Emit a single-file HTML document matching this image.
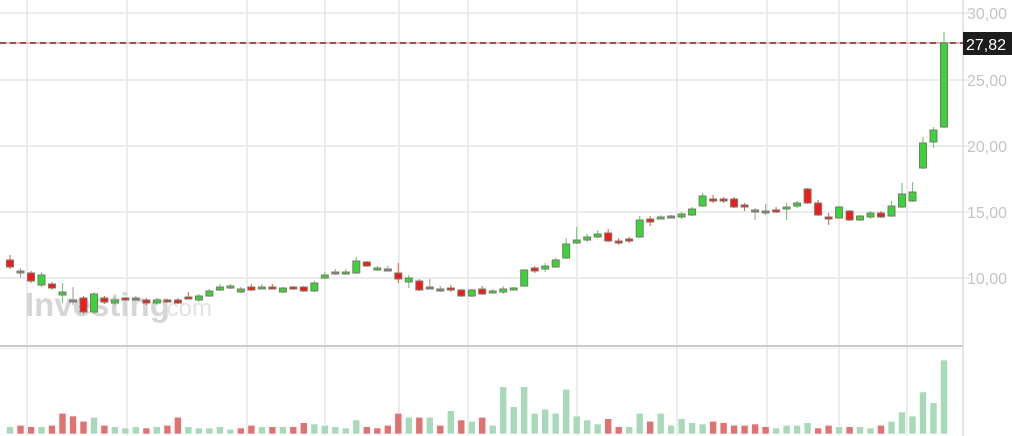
<!DOCTYPE html>
<html><head><meta charset="utf-8"><style>
html,body{margin:0;padding:0;background:#fff;width:1012px;height:436px;overflow:hidden}
svg{display:block;font-family:"Liberation Sans",sans-serif}
</style></head><body>
<svg id="s" width="1012" height="436" viewBox="0 0 1012 436" xmlns="http://www.w3.org/2000/svg">
<g stroke="#e6e6e6" stroke-width="1.5">
<line x1="27" y1="0" x2="27" y2="436"/><line x1="127" y1="0" x2="127" y2="436"/><line x1="247" y1="0" x2="247" y2="436"/><line x1="325" y1="0" x2="325" y2="436"/><line x1="399" y1="0" x2="399" y2="436"/><line x1="468" y1="0" x2="468" y2="436"/><line x1="577" y1="0" x2="577" y2="436"/><line x1="677" y1="0" x2="677" y2="436"/><line x1="767" y1="0" x2="767" y2="436"/><line x1="839" y1="0" x2="839" y2="436"/><line x1="907" y1="0" x2="907" y2="436"/>
<line x1="0" y1="13" x2="970" y2="13"/><line x1="0" y1="80" x2="970" y2="80"/><line x1="0" y1="146" x2="970" y2="146"/><line x1="0" y1="212" x2="970" y2="212"/><line x1="0" y1="278" x2="970" y2="278"/>
</g>
<line x1="963" y1="0" x2="963" y2="436" stroke="#ddd" stroke-width="1.5"/>
<line x1="0" y1="346" x2="963" y2="346" stroke="#ccc" stroke-width="2"/>
<line x1="0" y1="348.5" x2="963" y2="348.5" stroke="#eee" stroke-width="1"/>
<text x="25" y="316" font-size="33" font-weight="bold" fill="#d0d0d0" opacity="0.85">Investing</text>
<text x="160" y="316" font-size="24" fill="#dcdcdc" opacity="0.8">.com</text>
<g font-size="16" fill="#c4c4c4">
<text x="967" y="19">30,00</text><text x="967" y="86">25,00</text><text x="967" y="152">20,00</text><text x="967" y="218">15,00</text><text x="967" y="284">10,00</text>
</g>
<line x1="0" y1="43" x2="963" y2="43" stroke="#f3b0b0" stroke-width="2"/>
<line x1="0" y1="43" x2="963" y2="43" stroke="#6a3a3a" stroke-width="1.5" stroke-dasharray="6,4"/>
<rect x="963" y="32" width="49" height="23" fill="#1d1d1d"/>
<text x="966" y="50" font-size="16" fill="#fff">27,82</text>
<g id="c"></g>
</svg>
<script>
(function(){
var C=[
[260,267,255,269,'r'],[271,273,268,278,'d'],[273,281,271,283,'r'],[275,285,272,287,'g'],[284,288,282,290,'r'],[292,295,283,303,'g'],[300,302,287,305,'d'],[298,312,296,314,'r'],[294,312,292,314,'g'],[298,302,296,304,'r'],
[300,303,297,305,'g'],[298,300,297,300,'r'],[298,300,296,301,'d'],[300,303,298,305,'r'],[300,303,298,305,'g'],[300,302,299,302,'r'],[300,303,298,304,'r'],[297,299,292,299,'r'],[296,300,294,302,'g'],[291,296,289,297,'g'],
[287,290,284,291,'g'],[286,288,284,289,'g'],[289,292,287,293,'g'],[287,290,284,291,'r'],[287,289,284,289,'g'],[287,289,284,289,'r'],[288,292,287,293,'g'],[287,289,286,290,'r'],[287,291,286,292,'r'],[283,291,281,292,'g'],
[275,278,272,279,'g'],[272,274,269,275,'d'],[272,274,269,275,'g'],[261,273,257,274,'g'],[262,266,261,267,'r'],[268,270,266,271,'g'],[269,271,266,271,'d'],[273,279,263,283,'r'],[278,282,275,288,'g'],[281,290,279,291,'r'],
[287,289,279,289,'d'],[289,291,286,292,'d'],[288,290,285,292,'r'],[290,296,289,297,'r'],[290,296,289,297,'g'],[289,294,286,295,'r'],[291,293,289,293,'g'],[289,292,286,294,'g'],[288,290,287,290,'g'],[270,286,269,287,'g'],
[268,271,266,273,'r'],[266,269,263,272,'g'],[260,267,258,268,'g'],[244,258,238,259,'g'],[240,243,227,244,'g'],[237,240,234,242,'g'],[234,237,230,238,'g'],[233,241,229,242,'r'],[241,243,238,245,'r'],[239,241,237,243,'r'],
[220,237,216,238,'g'],[219,222,216,226,'r'],[217,219,215,219,'g'],[216,218,215,218,'d'],[214,217,212,219,'g'],[209,215,207,216,'g'],[196,206,193,207,'g'],[199,201,195,203,'r'],[199,201,197,203,'r'],[199,207,197,208,'r'],
[205,207,203,211,'r'],[210,212,208,220,'d'],[211,213,204,215,'d'],[210,212,207,213,'r'],[207,209,203,220,'g'],[203,206,201,208,'g'],[189,203,188,204,'r'],[203,215,200,216,'r'],[217,219,213,225,'r'],[207,218,206,219,'g'],
[211,220,210,221,'r'],[216,220,215,221,'g'],[213,217,211,219,'g'],[213,217,211,218,'r'],[206,216,201,217,'g'],[194,207,183,208,'g'],[192,201,182,202,'g'],[143,168,137,169,'g'],[130,142,127,148,'g'],[43,127,32,128,'g']
];
var V=[[260,'g'],[256,'r'],[260,'r'],[260,'g'],[256,'r'],[220,'r'],[228,'r'],[244,'r'],[232,'g'],[256,'r'],[260,'g'],[264,'g'],[260,'g'],[264,'r'],[260,'g'],[256,'r'],[232,'r'],[260,'g'],[264,'g'],[264,'g'],[260,'g'],[268,'g'],[264,'r'],[256,'r'],[260,'g'],[260,'r'],[260,'g'],[260,'r'],[248,'r'],[252,'g'],[256,'g'],[260,'g'],[264,'g'],[240,'g'],[260,'r'],[264,'r'],[256,'r'],[220,'r'],[232,'g'],[232,'r'],[232,'g'],[256,'r'],[212,'g'],[240,'r'],[244,'g'],[232,'r'],[256,'g'],[140,'g'],[200,'g'],[140,'g'],[220,'g'],[208,'g'],[220,'g'],[148,'g'],[228,'g'],[240,'g'],[252,'g'],[236,'r'],[260,'r'],[260,'g'],[220,'g'],[244,'r'],[220,'g'],[256,'g'],[236,'g'],[248,'g'],[252,'g'],[244,'r'],[248,'r'],[256,'r'],[256,'r'],[252,'r'],[260,'r'],[264,'g'],[256,'g'],[256,'g'],[248,'g'],[264,'r'],[256,'r'],[260,'g'],[260,'r'],[260,'g'],[264,'g'],[256,'r'],[244,'g'],[216,'g'],[228,'g'],[156,'g'],[188,'g'],[60,'g']];
var NS='http://www.w3.org/2000/svg',g=document.getElementById('c');
function mk(tag,attrs){var e=document.createElementNS(NS,tag);for(var k in attrs)e.setAttribute(k,attrs[k]);g.appendChild(e);}
var step=(944-10)/89;
for(var i=0;i<V.length;i++){var x=10+i*step;var yt=340+V[i][0]/3;
mk('rect',{x:(x-3.5).toFixed(1),y:yt.toFixed(1),width:7,height:(434-yt).toFixed(1),fill:(V[i][1]=='g'?'#a8d9b9':'#e07272'),stroke:'#fff','stroke-width':0.6});}
for(var j=0;j<C.length;j++){var c=C[j],cx=10+j*step;
var col=c[4]=='g'?'#3ad43a':(c[4]=='r'?'#ee1c1c':'#888');
var wc=c[4]=='g'?'#7cc87c':(c[4]=='r'?'#ee6a5a':'#aaa');
mk('line',{x1:cx.toFixed(1),y1:c[2],x2:cx.toFixed(1),y2:c[3],stroke:wc,'stroke-width':1.2});
var bh=Math.max(c[1]-c[0],2);
mk('rect',{x:(cx-3.5).toFixed(1),y:c[0],width:7,height:bh,fill:col,stroke:'#7a7a6a','stroke-width':1});}
})();
</script>
</body></html>
